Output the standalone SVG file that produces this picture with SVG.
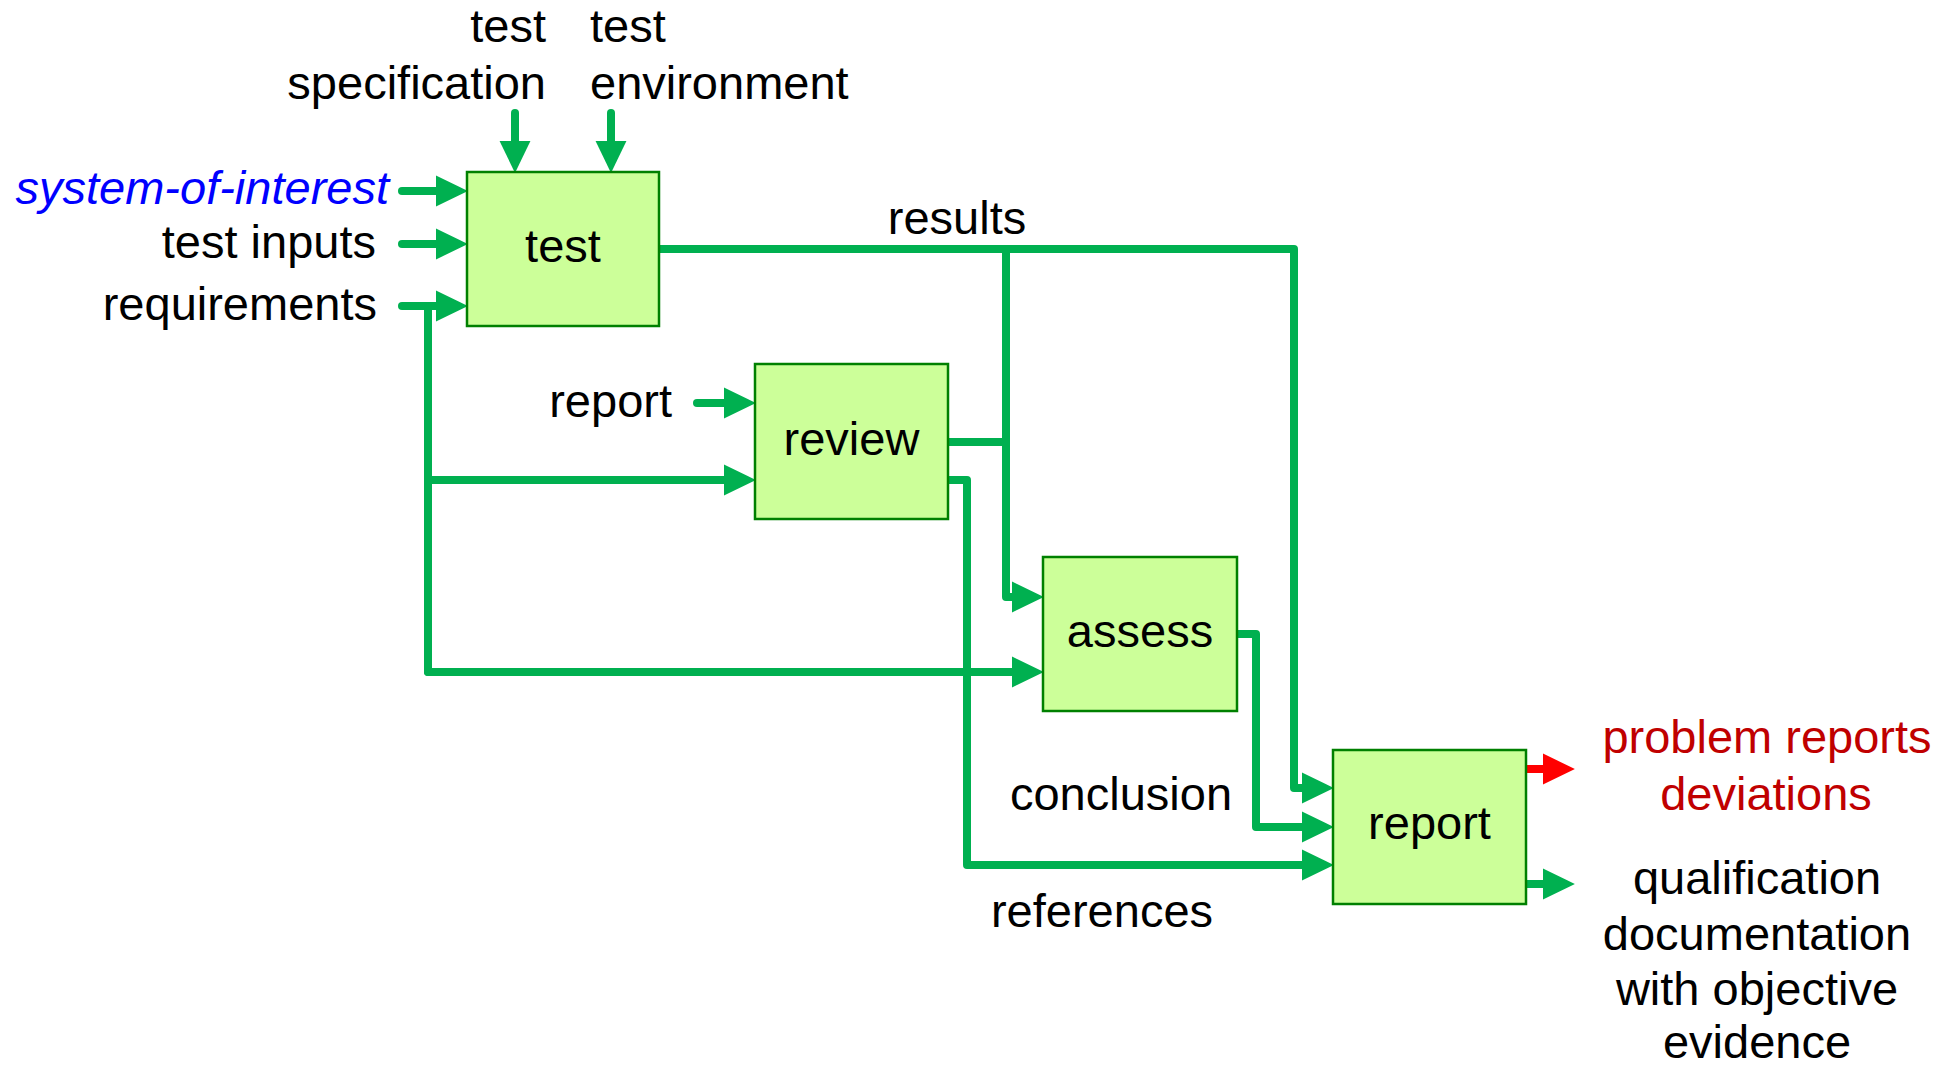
<svg xmlns="http://www.w3.org/2000/svg" width="1953" height="1068" viewBox="0 0 1953 1068">
<style>
  .box { fill: #CCFF99; stroke: #008000; stroke-width: 2.5; }
  .t { font-family: "Liberation Sans", Arial, sans-serif; font-size: 47px; fill: #000000; }
  .c { text-anchor: middle; }
  .e { text-anchor: end; }
  .con { fill: none; stroke: #00B050; stroke-width: 8; stroke-linecap: round; stroke-linejoin: round; }
  .red { stroke: #FF0000; }
</style>
<defs>
  <marker id="ah" markerUnits="userSpaceOnUse" markerWidth="32" markerHeight="32" viewBox="0 0 31 30" refX="3" refY="15" orient="auto">
    <path d="M0,0 L31,15 L0,30 z" fill="#00B050"/>
  </marker>
  <marker id="ahr" markerUnits="userSpaceOnUse" markerWidth="32" markerHeight="32" viewBox="0 0 31 30" refX="3" refY="15" orient="auto">
    <path d="M0,0 L31,15 L0,30 z" fill="#FF0000"/>
  </marker>
</defs>
<rect width="1953" height="1068" fill="#FFFFFF"/>

<g id="connectors">
  <path class="con" d="M515,113 L515,144" marker-end="url(#ah)"/>
  <path class="con" d="M611,113 L611,144" marker-end="url(#ah)"/>
  <path class="con" d="M402,191 L439,191" marker-end="url(#ah)"/>
  <path class="con" d="M402,244 L439,244" marker-end="url(#ah)"/>
  <path class="con" d="M402,306 L439,306" marker-end="url(#ah)"/>
  <path class="con" d="M428,306 L428,672"/>
  <path class="con" d="M428,480 L727,480" marker-end="url(#ah)"/>
  <path class="con" d="M697,403 L727,403" marker-end="url(#ah)"/>
  <path class="con" d="M428,672 L1015,672" marker-end="url(#ah)"/>
  <path class="con" d="M659,249 L1294,249 L1294,788 L1305,788" marker-end="url(#ah)"/>
  <path class="con" d="M1006,249 L1006,597 L1015,597" marker-end="url(#ah)"/>
  <path class="con" d="M948,442 L1006,442"/>
  <path class="con" d="M948,480 L967,480 L967,865 L1305,865" marker-end="url(#ah)"/>
  <path class="con" d="M1237,634 L1256,634 L1256,827 L1305,827" marker-end="url(#ah)"/>
  <path class="con red" d="M1526,769 L1546,769" marker-end="url(#ahr)"/>
  <path class="con" d="M1526,884 L1546,884" marker-end="url(#ah)"/>
</g>

<g id="node-test">
  <rect class="box" x="467" y="172" width="192" height="154"/>
  <text class="t c" x="563" y="262">test</text>
</g>
<g id="node-review">
  <rect class="box" x="755" y="364" width="193" height="155"/>
  <text class="t c" x="851.5" y="455">review</text>
</g>
<g id="node-assess">
  <rect class="box" x="1043" y="557" width="194" height="154"/>
  <text class="t c" x="1140" y="647">assess</text>
</g>
<g id="node-report">
  <rect class="box" x="1333" y="750" width="193" height="154"/>
  <text class="t c" x="1429.5" y="839">report</text>
</g>

<g id="labels">
  <text class="t e" x="546" y="42">test</text>
  <text class="t e" x="546" y="99">specification</text>
  <text class="t" x="590" y="42">test</text>
  <text class="t" x="590" y="99">environment</text>
  <text class="t e" x="389" y="204" font-style="italic" style="fill:#0000FF">system-of-interest</text>
  <text class="t e" x="376" y="258">test inputs</text>
  <text class="t e" x="377" y="320">requirements</text>
  <text class="t e" x="672" y="417">report</text>
  <text class="t c" x="957" y="234">results</text>
  <text class="t c" x="1121" y="810">conclusion</text>
  <text class="t c" x="1102" y="927">references</text>
  <text class="t c" x="1767" y="753" style="fill:#C00000">problem reports</text>
  <text class="t c" x="1766" y="810" style="fill:#C00000">deviations</text>
  <text class="t c" x="1757" y="894">qualification</text>
  <text class="t c" x="1757" y="950">documentation</text>
  <text class="t c" x="1757" y="1005">with objective</text>
  <text class="t c" x="1757" y="1058">evidence</text>
</g>
</svg>
